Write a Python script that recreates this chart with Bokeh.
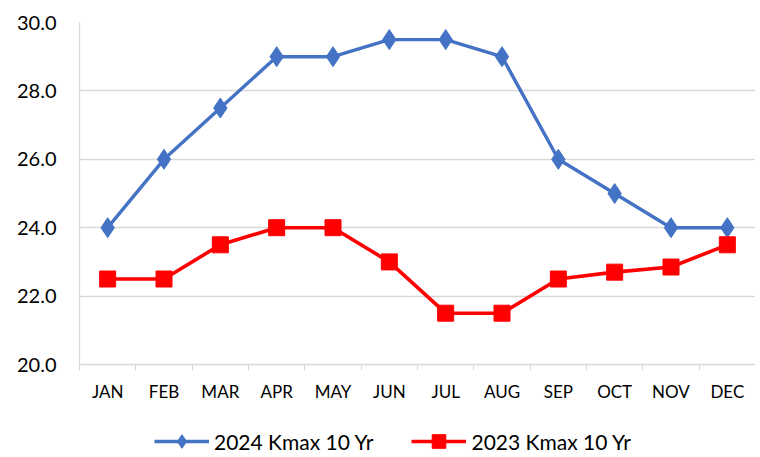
import numpy as np
from bokeh.plotting import figure
from bokeh.layouts import column
from bokeh.models import FixedTicker, Range1d, Legend, LegendItem, PrintfTickFormatter
from bokeh.embed import file_html
from bokeh.resources import INLINE

months = ["JAN", "FEB", "MAR", "APR", "MAY", "JUN", "JUL", "AUG", "SEP", "OCT", "NOV", "DEC"]
kmax_2024 = [24.0, 26.0, 27.5, 29.0, 29.0, 29.5, 29.5, 29.0, 26.0, 25.0, 24.0, 24.0]
kmax_2023 = [22.5, 22.5, 23.5, 24.0, 24.0, 23.0, 21.5, 21.5, 22.5, 22.7, 22.85, 23.5]
y_ticks = [20, 22, 24, 26, 28, 30]
series_labels = ["2024 Kmax 10 Yr", "2023 Kmax 10 Yr"]

xs = np.arange(len(months)) + 0.5
blue = "#4472C4"
red = "#FF0000"
grid_c = "#D9D9D9"

p = figure(width=755, height=407, output_backend="svg", toolbar_location=None,
           x_range=Range1d(0, len(months)), y_range=Range1d(20, 30),
           min_border_left=79, min_border_top=22, min_border_right=0, min_border_bottom=43)
p.outline_line_color = None

p.xgrid.grid_line_color = None
p.ygrid.grid_line_color = grid_c
p.ygrid.grid_line_width = 1.3

p.xaxis.ticker = FixedTicker(ticks=list(xs), minor_ticks=list(range(len(months) + 1)))
p.xaxis.major_label_overrides = {float(x): m for x, m in zip(xs, months)}
p.xaxis.major_tick_line_color = None
p.xaxis.minor_tick_line_color = grid_c
p.xaxis.minor_tick_out = 6
p.xaxis.minor_tick_in = 0
p.xaxis.axis_line_color = grid_c
p.xaxis.axis_line_width = 1.3
p.xaxis.major_label_text_font = "Lato"
p.xaxis.major_label_text_font_size = "17px"
p.xaxis.major_label_text_color = "#000000"
p.xaxis.major_label_standoff = 10

p.yaxis.ticker = FixedTicker(ticks=y_ticks)
p.yaxis.formatter = PrintfTickFormatter(format="%.1f")
p.yaxis.major_tick_line_color = None
p.yaxis.minor_tick_line_color = None
p.yaxis.axis_line_color = grid_c
p.yaxis.axis_line_width = 1.3
p.yaxis.major_label_text_font = "Lato"
p.yaxis.major_label_text_font_size = "20px"
p.yaxis.major_label_text_color = "#000000"
p.yaxis.major_label_standoff = 17

p.line(xs, kmax_2024, line_color=blue, line_width=3.4)
p.scatter(xs, kmax_2024, marker="diamond", size=20, fill_color=blue, line_color=blue)
p.line(xs, kmax_2023, line_color=red, line_width=3.6)
p.scatter(xs, kmax_2023, marker="square", size=16, fill_color=red, line_color=red)

# legend strip (series drawn off-range so only the legend shows)
q = figure(width=755, height=48, output_backend="svg", toolbar_location=None,
           x_range=Range1d(0, len(months)), y_range=Range1d(100, 101),
           min_border_left=79, min_border_top=0, min_border_right=0, min_border_bottom=0)
q.axis.visible = False
q.grid.visible = False
q.outline_line_color = None
ql1 = q.line(xs, kmax_2024, line_color=blue, line_width=3.4)
qm1 = q.scatter(xs, kmax_2024, marker="diamond", fill_color=blue, line_color=blue)
ql2 = q.line(xs, kmax_2023, line_color=red, line_width=3.6)
qm2 = q.scatter(xs, kmax_2023, marker="square", fill_color=red, line_color=red)
legend = Legend(items=[LegendItem(label=series_labels[0], renderers=[ql1, qm1]),
                       LegendItem(label=series_labels[1], renderers=[ql2, qm2])],
                orientation="horizontal", location=(75, -3),
                label_text_font="Lato", label_text_font_size="21px", label_text_color="#000000",
                glyph_width=55, glyph_height=34, spacing=38, label_standoff=5,
                border_line_color=None, background_fill_alpha=0, margin=0, padding=0)
q.add_layout(legend, "center")

layout = column(p, q, spacing=0)
open("out.html", "w").write(file_html(layout, INLINE))
